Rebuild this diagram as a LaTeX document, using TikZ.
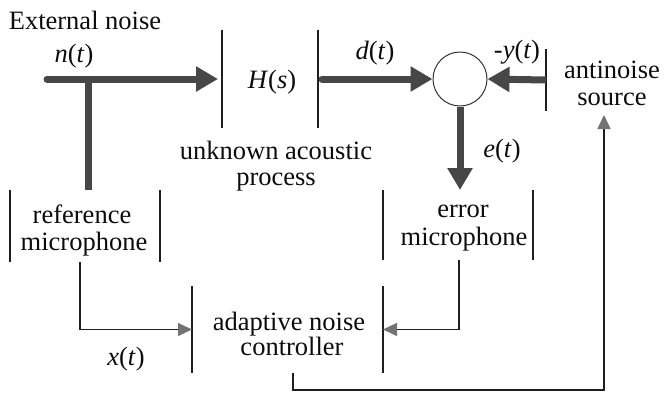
\documentclass[tikz,border=0pt]{standalone}
\usepackage{fontspec}
\setmainfont{Liberation Serif}
\usetikzlibrary{arrows.meta}
\newcommand\lblfont{\fontsize{26.5pt}{30pt}\selectfont}
\begin{document}
\begin{tikzpicture}[x=1pt,y=-1pt,
  heavy/.style={line width=7pt, draw=black!72},
  bigtip/.style={-{Triangle[length=22pt,width=24pt]}},
  thinline/.style={line width=1.3pt, draw=black!88},
  smalltip/.style={-{Triangle[length=14pt,width=13pt,color=black!55]}},
  lbl/.style={font=\lblfont, inner sep=0pt, anchor=base, text=black!95},
  sidebox/.style={rectangle, inner sep=0pt, outer sep=0pt, minimum width=0pt, draw=none}]
\useasboundingbox (0,0) rectangle (665,392);

% nodes
\node[lbl] (ext) at (85,29) {External noise};
\node[lbl] (nt) at (74,62) {\textit{n}(\textit{t})};
\node[sidebox, minimum width=96pt, minimum height=98pt] (hs) at (270,79) {};
\node[lbl] (hst) at (272,88) {\textit{H}(\textit{s})};
\node[lbl] (unk) at (276,159) {unknown acoustic};
\node[lbl] (proc) at (276,185) {process};
\node[lbl] (dt) at (375,59) {\textit{d}(\textit{t})};
\node[circle, draw=black!80, line width=1pt, minimum size=54pt, inner sep=0pt] (sum) at (460,79) {};
\node[lbl] (yt) at (517,58) {-\textit{y}(\textit{t})};
\node[sidebox, minimum height=62pt] (ant) at (546,80) {};
\node[lbl] (ant1) at (612,78) {antinoise};
\node[lbl] (ant2) at (612,105) {source};
\node[lbl] (et) at (502,157) {\textit{e}(\textit{t})};
\node[sidebox, minimum width=150pt, minimum height=70pt] (errm) at (458,225) {};
\node[lbl] (err1) at (463,217) {error};
\node[lbl] (err2) at (464,245) {microphone};
\node[sidebox, minimum width=150pt, minimum height=72pt] (refm) at (85,226) {};
\node[lbl] (ref1) at (82,223) {reference};
\node[lbl] (ref2) at (84,250) {microphone};
\node[sidebox, minimum width=191pt, minimum height=87pt] (anc) at (287.5,329.5) {};
\node[lbl] (anc1) at (289,330) {adaptive noise};
\node[lbl] (anc2) at (292,355) {controller};
\node[lbl] (xt) at (126,365) {\textit{x}(\textit{t})};

\coordinate (nstart) at (47,79);
\coordinate (tee) at (88,79);
\coordinate (rx) at (80,0);
\coordinate (ex) at (459,0);
\coordinate (tick) at (293,390);
\coordinate (corner) at (604,390);
\coordinate (srcpt) at (604,115);

% box sides
\foreach \b in {hs,errm,refm,anc}{
  \draw[thinline] (\b.north west) -- (\b.south west);
  \draw[thinline] (\b.north east) -- (\b.south east);
}
\draw[thinline] (ant.north) -- (ant.south);

% heavy connectors
\draw[heavy, line cap=round, bigtip, shorten >=4pt] (nstart) -- (hs.west);
\draw[heavy] (tee) -- (refm.north -| tee);
\draw[heavy, line cap=round, bigtip, shorten <=4pt] (hs.east) -- (sum.west);
\draw[heavy, bigtip] (ant.center) -- (sum.east);
\draw[heavy, bigtip] (sum.south) -- (errm.north -| sum.south);

% thin connectors
\draw[thinline, smalltip] (refm.south -| rx) |- (anc.west);
\draw[thinline, smalltip] (errm.south -| ex) |- (anc.east);
\draw[thinline, smalltip] (anc.south -| tick) -- (tick) -- (corner) -- (srcpt);
\end{tikzpicture}
\end{document}
